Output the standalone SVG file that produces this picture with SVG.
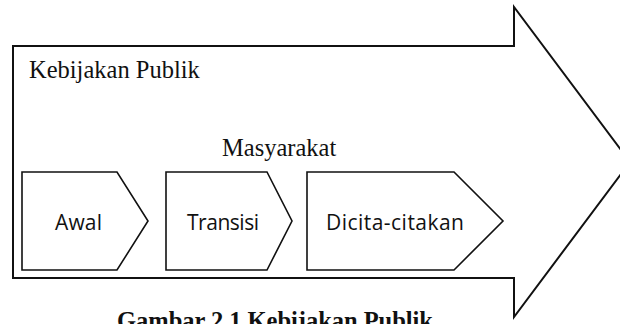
<svg xmlns="http://www.w3.org/2000/svg" width="620" height="324" viewBox="0 0 620 324">
<style>
.big{fill:#fff;stroke:#111;stroke-width:2;stroke-linejoin:miter}
.chev{fill:#fff;stroke:#111;stroke-width:1.6;stroke-linejoin:miter}
.serif{font-family:"Liberation Serif","Times New Roman",serif;fill:#111}
.sans{font-family:"Open Sans","Noto Sans",sans-serif;fill:#111;font-size:21px}
</style>
<rect width="620" height="324" fill="#fff"/>
<g id="kebijakan-publik">
<path class="big" d="M13,46 L514,46 L514,7 L630,162 L514,317 L514,278 L13,278 Z"/>
<text class="serif" x="29" y="78" font-size="24.5">Kebijakan Publik</text>
</g>
<g id="masyarakat">
<text class="serif" x="222" y="156" font-size="24.5">Masyarakat</text>
</g>
<g id="awal">
<path class="chev" d="M22,172 L117,172 L148,221 L117,270 L22,270 Z"/>
<text class="sans" x="55" y="230" textLength="47">Awal</text>
</g>
<g id="transisi">
<path class="chev" d="M166,172 L267,172 L292,221 L267,270 L166,270 Z"/>
<text class="sans" x="187" y="230" textLength="72">Transisi</text>
</g>
<g id="dicita-citakan">
<path class="chev" d="M307,172 L454,172 L503,221 L454,270 L307,270 Z"/>
<text class="sans" x="326" y="230" textLength="138">Dicita-citakan</text>
</g>
<g id="connectors"></g>
<text class="serif" x="117" y="329" font-size="24.5" font-weight="bold" textLength="316">Gambar 2.1 Kebijakan Publik</text>
</svg>
